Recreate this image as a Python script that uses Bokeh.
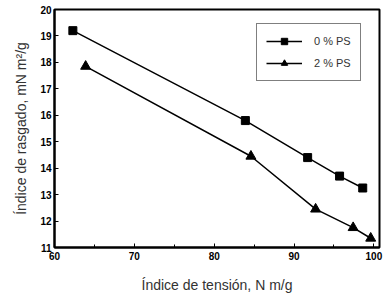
from bokeh.plotting import figure
from bokeh.models import Range1d, FixedTicker, Legend, LegendItem, Title
from bokeh.embed import file_html
from bokeh.resources import INLINE

x_ps0 = [62.3, 83.9, 91.7, 95.7, 98.6]
y_ps0 = [19.2, 15.8, 14.4, 13.7, 13.25]
x_ps2 = [63.9, 84.6, 92.7, 97.4, 99.6]
y_ps2 = [17.85, 14.45, 12.45, 11.75, 11.35]
labels = ["0 % PS", "2 % PS"]
x_ticks = [60, 70, 80, 90, 100]
y_ticks = [11, 12, 13, 14, 15, 16, 17, 18, 19, 20]

p = figure(width=387, height=295, output_backend="svg", toolbar_location=None,
           x_range=Range1d(60, 100.7), y_range=Range1d(11, 20),
           min_border_left=54, min_border_right=8, min_border_top=9, min_border_bottom=47)
p.grid.visible = False
p.outline_line_color = "black"
p.outline_line_width = 2
p.background_fill_color = "white"
p.border_fill_color = "white"

l0 = p.line(x_ps0, y_ps0, line_color="black", line_width=1.5)
m0 = p.scatter(x_ps0, y_ps0, marker="square", size=8, fill_color="black", line_color="black")
l1 = p.line(x_ps2, y_ps2, line_color="black", line_width=1.5)
m1 = p.scatter(x_ps2, y_ps2, marker="triangle", size=10, fill_color="black", line_color="black")

for ax in (p.xaxis[0], p.yaxis[0]):
    ax.axis_line_width = 2
    ax.axis_line_color = "black"
    ax.major_tick_in = 4
    ax.major_tick_out = 0
    ax.minor_tick_in = 3
    ax.minor_tick_out = 0
    ax.major_label_text_font = "Liberation Sans"
    ax.major_label_text_font_style = "bold"
    ax.major_label_text_font_size = "10px"
    ax.major_label_text_color = "black"
    ax.axis_label_text_font = "Liberation Sans"
    ax.axis_label_text_font_style = "normal"
    ax.axis_label_text_font_size = "14px"
    ax.axis_label_text_color = "#333333"

p.xaxis.ticker = FixedTicker(ticks=x_ticks, minor_ticks=[65, 75, 85, 95])
p.yaxis.ticker = FixedTicker(ticks=y_ticks, minor_ticks=[])
p.xaxis.major_label_standoff = 4
p.yaxis.major_label_standoff = 3
p.xaxis.axis_label = "Índice de tensión, N m/g"
p.xaxis.axis_label_standoff = 14

ytitle = Title(text="Índice de rasgado, mN m²/g", align="center", text_font="Liberation Sans",
               text_font_size="14px", text_font_style="normal", text_color="#333333",
               standoff=17, offset=0)
p.add_layout(ytitle, "left")

legend = Legend(items=[LegendItem(label=labels[0], renderers=[l0, m0]),
                       LegendItem(label=labels[1], renderers=[l1, m1])],
                location=(202, 166), border_line_color="black", border_line_width=1.5,
                label_text_font="Liberation Sans", label_text_font_size="11px",
                label_text_color="#333333",
                glyph_width=36, glyph_height=16, spacing=6, padding=9, label_standoff=12,
                background_fill_alpha=1.0)
p.add_layout(legend)

open("out.html", "w").write(file_html(p, INLINE))
